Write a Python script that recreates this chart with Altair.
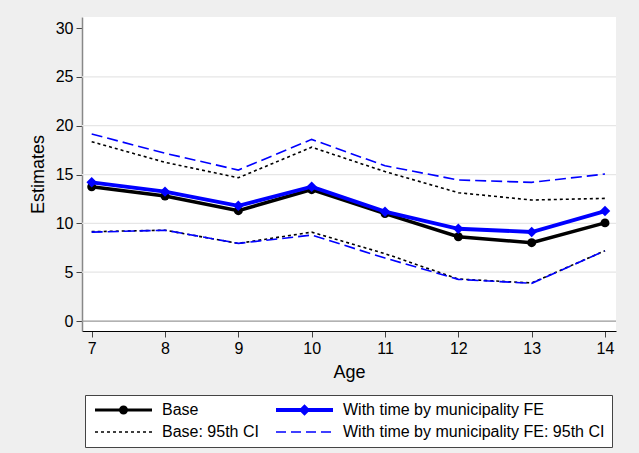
import math
import altair as alt
import pandas as pd

# ---------------- data ----------------
ages = [7, 8, 9, 10, 11, 12, 13, 14]
base = [13.75, 12.8, 11.3, 13.45, 11.0, 8.63, 8.02, 10.05]
base_lo = [9.15, 9.3, 7.95, 9.1, 6.9, 4.3, 3.9, 7.2]
base_hi = [18.36, 16.25, 14.67, 17.8, 15.3, 13.14, 12.39, 12.56]
fe = [14.2, 13.25, 11.8, 13.75, 11.2, 9.45, 9.12, 11.26]
fe_lo = [9.1, 9.3, 7.95, 8.8, 6.45, 4.27, 3.86, 7.2]
fe_hi = [19.15, 17.18, 15.46, 18.6, 15.9, 14.44, 14.2, 15.05]

series_names = [
    "Base",
    "With time by municipality FE",
    "Base: 95th CI",
    "With time by municipality FE: 95th CI",
]
y_ticks = [0, 5, 10, 15, 20, 25, 30]
grid_vals = [5, 10, 15, 20, 25]

FONT = "Liberation Sans, Arial, sans-serif"

rows = []
for name, vals in zip(
    ["Base", "Base: 95th CI lo", "Base: 95th CI hi", "FE", "FE: 95th CI lo", "FE: 95th CI hi"],
    [base, base_lo, base_hi, fe, fe_lo, fe_hi],
):
    for a, v in zip(ages, vals):
        rows.append({"age": a, "value": v, "series": name})
df = pd.DataFrame(rows)
grid_df = pd.DataFrame({"value": grid_vals})
zero_df = pd.DataFrame({"value": [0]})

X_SCALE = alt.Scale(domain=[6.868, 14.15], nice=False, zero=False)
Y_SCALE = alt.Scale(domain=[-1.02, 31.13], nice=False, zero=False)


def xenc():
    return alt.X(
        "age:Q",
        scale=X_SCALE,
        axis=alt.Axis(
            values=ages, title="Age", grid=False, format="d",
            domainColor="black", domainWidth=1.2,
            tickColor="#444", tickSize=6, tickWidth=1,
            labelFont=FONT, labelFontSize=16, labelColor="black", labelPadding=3,
            titleFont=FONT, titleFontSize=18, titleFontWeight="normal",
            titleColor="black", titlePadding=7,
        ),
    )


def yenc():
    return alt.Y(
        "value:Q",
        scale=Y_SCALE,
        axis=alt.Axis(
            values=y_ticks, title="Estimates", grid=False, format="d",
            domainColor="#888", domainWidth=1.5,
            tickColor="#444", tickSize=6, tickWidth=1,
            labelFont=FONT, labelFontSize=16, labelColor="black", labelPadding=3,
            titleFont=FONT, titleFontSize=18, titleFontWeight="normal",
            titleColor="black", titlePadding=8,
        ),
    )


grid = alt.Chart(grid_df).mark_rule(color="#e6e6e6", strokeWidth=1.2).encode(y=yenc())
zero = alt.Chart(zero_df).mark_rule(color="#999999", strokeWidth=1.2).encode(y=yenc())


def line(name, color, width, dash=None):
    kw = dict(color=color, strokeWidth=width)
    if dash:
        kw["strokeDash"] = dash
    return (
        alt.Chart(df)
        .transform_filter(alt.datum.series == name)
        .mark_line(**kw)
        .encode(x=xenc(), y=yenc())
    )


def pts(name, color, shape, size):
    return (
        alt.Chart(df)
        .transform_filter(alt.datum.series == name)
        .mark_point(filled=True, color=color, shape=shape, size=size, opacity=1)
        .encode(x=xenc(), y=yenc())
    )


# ---- legend symbols (style only) ----
def rect(x0, x1, h):
    return f"M{x0},{-h}L{x1},{-h}L{x1},{h}L{x0},{h}Z"


def circle(cx, r, n=16):
    p = []
    for i in range(n):
        t = 2 * math.pi * i / n
        p.append(f"{cx + r * math.cos(t):.3f},{r * math.sin(t):.3f}")
    return "M" + "L".join(p) + "Z"


def diamond(cx, r):
    return f"M{cx - r},0L{cx},{-r}L{cx + r},0L{cx},{r}Z"


def dashes(x0, x1, on, off, h):
    out = []
    x = x0
    while x < x1 - 0.01:
        out.append(rect(round(x, 3), round(min(x + on, x1), 3), h))
        x += on + off
    return "".join(out)


L0, L1 = -1, 10.4
mid = (L0 + L1) / 2
sym_paths = [
    rect(L0, L1, 0.3) + circle(mid, 0.9),
    rect(L0, L1, 0.4) + diamond(mid, 1.15),
    dashes(L0, L1, 0.6, 0.6, 0.15),
    dashes(L0, L1, 2.0, 1.0, 0.15),
]
sym_colors = ["black", "blue", "black", "blue"]

leg = alt.Legend(
    title=None, orient="none", legendX=3, legendY=378,
    columns=2, direction="horizontal",
    fillColor="white", strokeColor="#444", cornerRadius=0,
    padding=7, columnPadding=14, rowPadding=6,
    labelFont=FONT, labelFontSize=16, labelColor="black", labelLimit=500,
    labelOffset=54, symbolSize=100, symbolStrokeWidth=0, symbolOpacity=1,
)

legend_layer = (
    alt.Chart(df)
    .transform_filter("false")
    .mark_point(filled=True, opacity=1)
    .encode(
        x=xenc(), y=yenc(),
        color=alt.Color("series:N", scale=alt.Scale(domain=series_names, range=sym_colors), legend=leg),
        shape=alt.Shape("series:N", scale=alt.Scale(domain=series_names, range=sym_paths), legend=leg),
    )
)

chart = (
    alt.layer(
        grid, zero,
        line("Base", "black", 3.5), pts("Base", "black", "circle", 80),
        line("Base: 95th CI lo", "black", 1.6, [3, 3]),
        line("Base: 95th CI hi", "black", 1.6, [3, 3]),
        line("FE", "blue", 3.8), pts("FE", "blue", "diamond", 110),
        line("FE: 95th CI lo", "blue", 1.6, [11, 5]),
        line("FE: 95th CI hi", "blue", 1.6, [11, 5]),
        legend_layer,
    )
    .properties(
        width=534, height=314, autosize="none", background="#efefef",
        padding={"left": 82, "top": 17, "right": 23, "bottom": 122},
    )
    .configure_view(stroke=None, fill="white")
    .configure_legend(strokeWidth=1)
)

chart.save("out.html", embed_options={"renderer": "svg", "actions": False})
